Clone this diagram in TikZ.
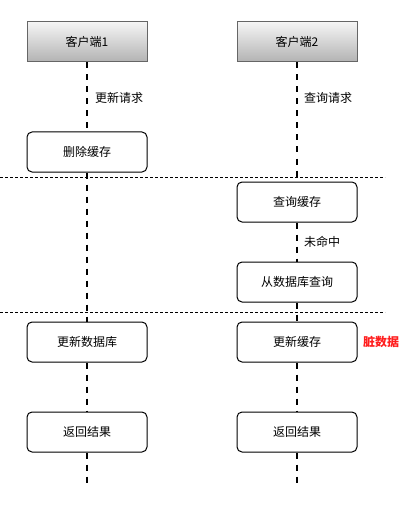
\documentclass[tikz,border=0pt]{standalone}
\usepackage{fontspec}
\setmainfont{Noto Sans CJK SC}
\begin{document}
\begin{tikzpicture}[x=1pt,y=-1pt,
  header/.style={draw=black!60,line width=1pt,top color=black!4,bottom color=black!30,minimum width=120pt,minimum height=40pt,inner sep=0pt,font=\fontsize{12}{14}\selectfont},
  stepbox/.style={draw=black,line width=1pt,rounded corners=5pt,fill=white,minimum width=120pt,minimum height=40pt,inner sep=0pt,font=\fontsize{12}{14}\selectfont},
  life/.style={line width=2pt,dash pattern=on 6pt off 6pt},
  sep/.style={line width=0.8pt,dash pattern=on 3pt off 2pt},
  lbl/.style={anchor=west,inner sep=0pt,font=\fontsize{12}{14}\selectfont}]
\useasboundingbox (0,0) rectangle (413,505);
% headers
\node[header] (h1) at (87,42) {客户端1};
\node[header] (h2) at (297,42) {客户端2};
% boxes
\node[stepbox] (a1) at (87,152) {删除缓存};
\node[stepbox] (b1) at (297,202) {查询缓存};
\node[stepbox] (b2) at (297,282) {从数据库查询};
\node[stepbox] (a2) at (87,342) {更新数据库};
\node[stepbox] (b3) at (297,342) {更新缓存};
\node[stepbox] (a3) at (87,432) {返回结果};
\node[stepbox] (b4) at (297,432) {返回结果};
\coordinate (e1) at (87,483);
\coordinate (e2) at (297,488);
% separators
\coordinate (s1a) at (0,177);
\coordinate (s1b) at (385,177);
\coordinate (s2a) at (0,312);
\coordinate (s2b) at (385,312);
\draw[sep] (s1a) -- (s1b);
\draw[sep] (s2a) -- (s2b);
% lifelines
\draw[life] (h1.south) -- (a1.north);
\draw[life] (a1.south) -- (a2.north);
\draw[life] (a2.south) -- (a3.north);
\draw[life] (a3.south) -- (e1);
\draw[life] (h2.south) -- (b1.north);
\draw[life] (b1.south) -- (b2.north);
\draw[life] (b2.south) -- (b3.north);
\draw[life] (b3.south) -- (b4.north);
\draw[life] (b4.south) -- (e2);
% labels
\node[lbl] (l1) at (95,98) {更新请求};
\node[lbl] (l2) at (304,98) {查询请求};
\node[lbl] (l3) at (304,242) {未命中};
\node[lbl,text={rgb,255:red,255;green,30;blue,30},font=\fontsize{12}{14}\selectfont\bfseries] (l4) at (363,342) {脏数据};
\end{tikzpicture}
\end{document}
